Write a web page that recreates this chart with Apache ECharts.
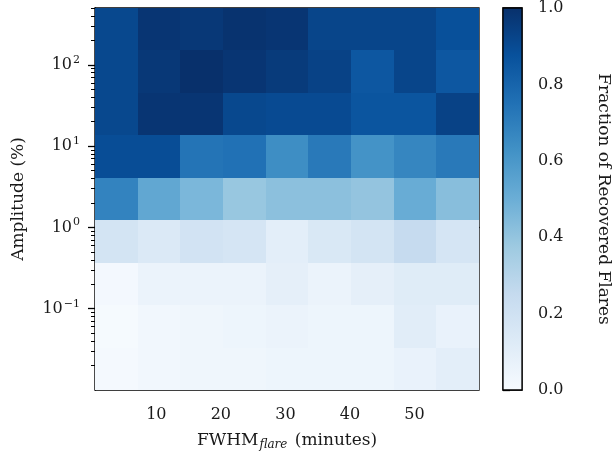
<!DOCTYPE html>
<html><head><meta charset="utf-8">
<script src="https://cdn.jsdelivr.net/npm/echarts@6/dist/echarts.min.js"></script>
<style>html,body{margin:0;padding:0;background:#fff}#c{width:613px;height:459px}</style>
</head><body><div id="c"></div>
<script>
// Bin edges (FWHM in minutes, amplitude in %)
const fwhmEdges = [0.5, 7.11, 13.72, 20.33, 26.94, 33.56, 40.17, 46.78, 53.39, 60];
const ampEdges = [0.01, 0.0333, 0.111, 0.368, 1.226, 4.08, 13.57, 45.2, 150.3, 500];
// Fraction of recovered flares, rows from lowest amplitude bin to highest
const row0 = [0.015, 0.03, 0.04, 0.04, 0.05, 0.05, 0.05, 0.07, 0.10];
const row1 = [0.01, 0.03, 0.04, 0.05, 0.06, 0.05, 0.05, 0.11, 0.07];
const row2 = [0.02, 0.06, 0.06, 0.06, 0.09, 0.06, 0.09, 0.12, 0.12];
const row3 = [0.18, 0.14, 0.19, 0.17, 0.10, 0.15, 0.18, 0.25, 0.17];
const row4 = [0.68, 0.53, 0.46, 0.39, 0.42, 0.42, 0.40, 0.51, 0.43];
const row5 = [0.89, 0.89, 0.74, 0.75, 0.64, 0.72, 0.62, 0.67, 0.72];
const row6 = [0.91, 0.98, 0.98, 0.91, 0.90, 0.90, 0.86, 0.86, 0.93];
const row7 = [0.91, 0.97, 1.00, 0.98, 0.96, 0.93, 0.85, 0.92, 0.85];
const row8 = [0.91, 0.98, 0.97, 0.99, 0.98, 0.92, 0.92, 0.92, 0.88];
const fraction = [row0, row1, row2, row3, row4, row5, row6, row7, row8];
const xTickValues = [10, 20, 30, 40, 50];
const yTickExponents = [-1, 0, 1, 2];
const cbarTicks = [0, 0.2, 0.4, 0.6, 0.8, 1.0];
const blues = ['#f7fbff','#deebf7','#c6dbef','#9ecae1','#6baed6','#4292c6','#2171b5','#08519c','#08306b'];

const cells = [];
for (let r = 0; r < fraction.length; r++) {
  for (let c = 0; c < fraction[r].length; c++) {
    cells.push([fwhmEdges[c], fwhmEdges[c + 1], ampEdges[r], ampEdges[r + 1], fraction[r][c]]);
  }
}
const yMinLog = Math.log10(ampEdges[0]);
const yMaxLog = Math.log10(ampEdges[ampEdges.length - 1]);
const minorTicks = [];
for (let e = -2; e <= 2; e++) {
  for (let k = 2; k <= 9; k++) {
    const v = k * Math.pow(10, e);
    if (v <= ampEdges[ampEdges.length - 1]) minorTicks.push(Math.log10(v));
  }
}

const FONT = 'DejaVu Serif';
const TXT = '#1a1a1a';
const TICK_FS = 16;
const NAME_FS = 17;
const chart = echarts.init(document.getElementById('c'), null, {renderer: 'canvas'});
const supLabel = v => {
  const e = Math.round(v);
  return '{b|10}{s|' + (e < 0 ? '\u2212' + (-e) : e) + '}';
};
const rectFrom = (api) => {
  const p0 = api.coord([api.value(0), api.value(3)]);
  const p1 = api.coord([api.value(1), api.value(2)]);
  const x0 = Math.round(p0[0]), y0 = Math.round(p0[1]);
  const x1 = Math.round(p1[0]), y1 = Math.round(p1[1]);
  return {x: x0, y: y0, width: x1 - x0, height: y1 - y0};
};

chart.setOption({
  animation: false,
  backgroundColor: '#fff',
  textStyle: {fontFamily: FONT, color: TXT},
  grid: [
    {left: 95, top: 8, width: 384, height: 382, show: true, borderColor: '#000', borderWidth: 1.3, backgroundColor: 'transparent', containLabel: false},
    {left: 503, top: 8, width: 20, height: 382, show: true, borderColor: '#000', borderWidth: 1.3, backgroundColor: 'transparent', containLabel: false}
  ],
  visualMap: {
    type: 'continuous', show: false, min: 0, max: 1, dimension: 4, seriesIndex: 0,
    inRange: {color: blues}
  },
  xAxis: [
    {
      gridIndex: 0, type: 'value', min: fwhmEdges[0], max: fwhmEdges[fwhmEdges.length - 1],
      splitLine: {show: false},
      axisLine: {show: true, lineStyle: {color: '#000', width: 1.3}},
      axisTick: {show: true, customValues: xTickValues, length: 7, lineStyle: {color: '#000', width: 1.3}},
      axisLabel: {show: true, customValues: xTickValues, margin: 17, fontSize: TICK_FS, fontFamily: FONT, color: TXT},
      name: 'FWHM{sub|flare} (minutes)',
      nameLocation: 'middle', nameGap: 41,
      nameTextStyle: {fontSize: NAME_FS, fontFamily: FONT, color: TXT,
        rich: {sub: {fontSize: 12, fontStyle: 'italic', fontFamily: FONT, color: TXT, padding: [8, 2, 0, 1]}}}
    },
    {gridIndex: 1, type: 'value', min: 0, max: 1, show: false}
  ],
  yAxis: [
    {gridIndex: 0, type: 'log', logBase: 10, min: ampEdges[0], max: ampEdges[ampEdges.length - 1], position: 'left', show: false},
    {
      gridIndex: 0, type: 'value', min: yMinLog, max: yMaxLog, position: 'left',
      splitLine: {show: false},
      axisLine: {show: true, lineStyle: {color: '#000', width: 1.3}},
      axisTick: {show: true, customValues: yTickExponents, length: 7, lineStyle: {color: '#000', width: 1.3}},
      axisLabel: {show: true, customValues: yTickExponents, margin: 15, formatter: supLabel,
        rich: {
          b: {fontSize: TICK_FS, fontFamily: FONT, color: TXT},
          s: {fontSize: 11, fontFamily: FONT, color: TXT, padding: [0, 0, 10, 1]}
        }},
      name: 'Amplitude (%)', nameLocation: 'middle', nameGap: 68, nameRotate: 90,
      nameTextStyle: {fontSize: NAME_FS, fontFamily: FONT, color: TXT}
    },
    {
      gridIndex: 0, type: 'value', min: yMinLog, max: yMaxLog, position: 'left',
      splitLine: {show: false}, axisLine: {show: false},
      axisTick: {show: true, customValues: minorTicks, length: 4, lineStyle: {color: '#000', width: 1}},
      axisLabel: {show: false}
    },
    {
      gridIndex: 1, type: 'value', min: 0, max: 1, interval: 0.2, position: 'right',
      splitLine: {show: false}, axisLine: {show: false},
      axisTick: {show: true, customValues: cbarTicks, length: 7, lineStyle: {color: '#000', width: 1.3}},
      axisLabel: {show: true, customValues: cbarTicks, margin: 16, fontSize: TICK_FS, fontFamily: FONT, color: TXT,
        formatter: v => Number(v).toFixed(1)},
      name: 'Fraction of Recovered Flares', nameLocation: 'middle', nameGap: 73, nameRotate: -90,
      nameTextStyle: {fontSize: NAME_FS, fontFamily: FONT, color: TXT}
    }
  ],
  series: [
    {
      type: 'custom', xAxisIndex: 0, yAxisIndex: 0, data: cells,
      encode: {x: [0, 1], y: [2, 3]},
      renderItem: (params, api) => {
        return {type: 'rect', shape: rectFrom(api), style: {fill: api.visual('color')}};
      },
      z: 1
    },
    {
      type: 'custom', xAxisIndex: 1, yAxisIndex: 3, data: [[0, 1, 0, 1]],
      encode: {x: [0, 1], y: [2, 3]},
      renderItem: (params, api) => {
        return {type: 'rect', shape: rectFrom(api),
          style: {fill: new echarts.graphic.LinearGradient(0, 1, 0, 0,
            blues.map((c, i) => ({offset: i / (blues.length - 1), color: c}))),
            stroke: '#000', lineWidth: 1.3}};
      },
      z: 1
    }
  ]
});
</script></body></html>
